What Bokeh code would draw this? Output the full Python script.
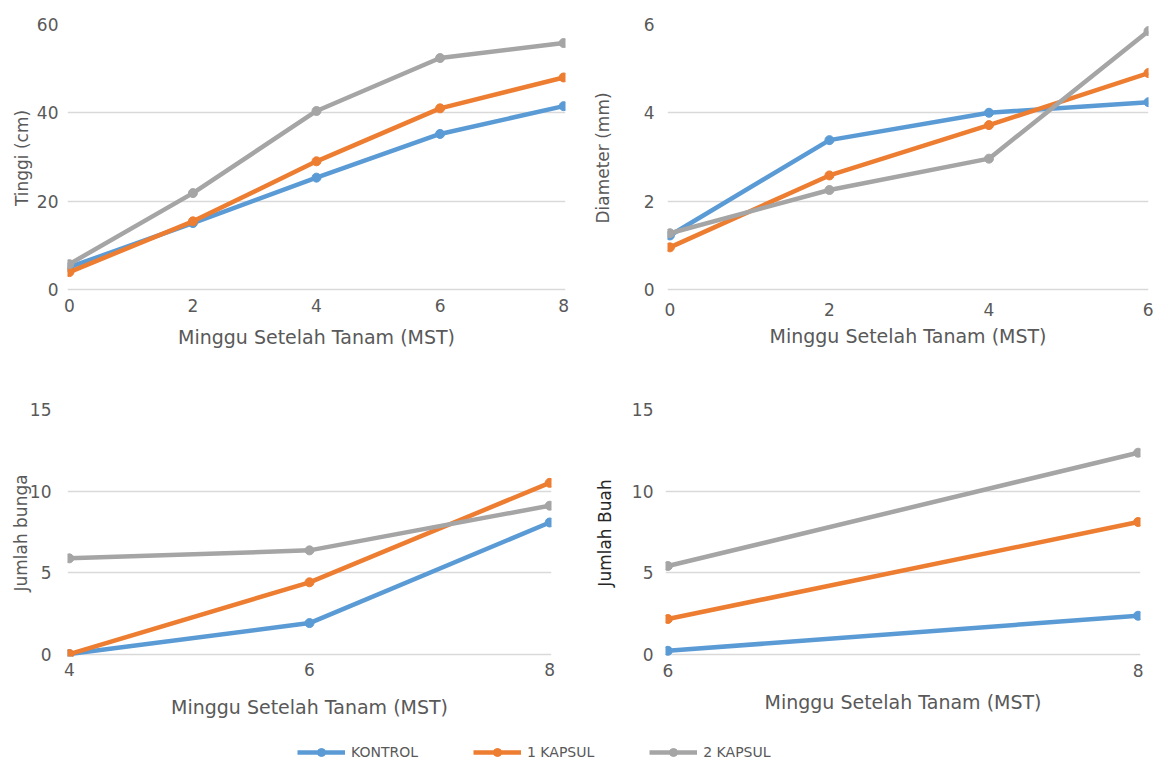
from bokeh.plotting import figure
from bokeh.layouts import column, row
from bokeh.models import Range1d, FixedTicker, Legend, LegendItem
from bokeh.embed import file_html
from bokeh.resources import INLINE

series = ["KONTROL", "1 KAPSUL", "2 KAPSUL"]
colors = ["#5B9BD5", "#ED7D31", "#A5A5A5"]

# Tinggi (cm)
mst_tinggi = [0, 2, 4, 6, 8]
tinggi_kontrol = [5.0, 15.0, 25.3, 35.2, 41.5]
tinggi_1kapsul = [3.9, 15.4, 29.0, 41.0, 48.0]
tinggi_2kapsul = [5.7, 21.8, 40.4, 52.4, 55.8]

# Diameter (mm)
mst_diameter = [0, 2, 4, 6]
diameter_kontrol = [1.22, 3.38, 4.0, 4.24]
diameter_1kapsul = [0.95, 2.58, 3.72, 4.9]
diameter_2kapsul = [1.27, 2.25, 2.96, 5.85]

# Jumlah bunga
mst_bunga = [4, 6, 8]
bunga_kontrol = [0.0, 1.9, 8.07]
bunga_1kapsul = [0.0, 4.4, 10.5]
bunga_2kapsul = [5.87, 6.36, 9.1]

# Jumlah Buah
mst_buah = [6, 8]
buah_kontrol = [0.2, 2.35]
buah_1kapsul = [2.15, 8.1]
buah_2kapsul = [5.4, 12.35]

FONT = "DejaVu Sans"
TXT = "#595959"


def make_panel(w, h, xr, yr, xticks, yticks, ylabel, borders, xs, ys_list,
               ylabel_color=TXT, ytick_so=8, ylab_so=0, xtick_so=5, xlab_so=10):
    p = figure(width=w, height=h, output_backend="svg", toolbar_location=None,
               x_range=Range1d(*xr), y_range=Range1d(*yr))
    p.min_border_left, p.min_border_right, p.min_border_top, p.min_border_bottom = borders
    p.outline_line_color = None
    p.xgrid.visible = False
    p.ygrid.grid_line_color = "#D9D9D9"
    p.ygrid.grid_line_width = 1.5
    for ax in (p.xaxis[0], p.yaxis[0]):
        ax.axis_line_color = None
        ax.major_tick_line_color = None
        ax.minor_tick_line_color = None
        ax.major_label_text_font = FONT
        ax.major_label_text_font_size = "17px"
        ax.major_label_text_color = TXT
        ax.axis_label_text_font = FONT
        ax.axis_label_text_font_style = "normal"
    p.xaxis[0].ticker = FixedTicker(ticks=xticks)
    p.yaxis[0].ticker = FixedTicker(ticks=yticks)
    p.xaxis[0].axis_label = "Minggu Setelah Tanam (MST)"
    p.xaxis[0].axis_label_text_color = TXT
    p.xaxis[0].axis_label_text_font_size = "19px"
    p.xaxis[0].major_label_standoff = xtick_so
    p.xaxis[0].axis_label_standoff = xlab_so
    p.yaxis[0].axis_label = ylabel
    p.yaxis[0].axis_label_text_color = ylabel_color
    p.yaxis[0].axis_label_text_font_size = "17px"
    p.yaxis[0].major_label_standoff = ytick_so
    p.yaxis[0].axis_label_standoff = ylab_so
    for ys, c in zip(ys_list, colors):
        p.line(xs, ys, line_color=c, line_width=4.5)
        p.scatter(xs, ys, size=9, fill_color=c, line_color=c)
    return p


# page origin is (0, 0): Bokeh's page template removes the body margin
p1 = make_panel(580, 378, (-0.03, 8.03), (-0.5, 60), [0, 2, 4, 6, 8], [0, 20, 40, 60],
                "Tinggi (cm)", (67, 15, 20, 87), mst_tinggi,
                [tinggi_kontrol, tinggi_1kapsul, tinggi_2kapsul],
                ytick_so=3, ylab_so=2, xtick_so=1, xlab_so=11)
p2 = make_panel(573, 378, (-0.03, 6.0), (-0.05, 6), [0, 2, 4, 6], [0, 2, 4, 6],
                "Diameter (mm)", (87, 5, 24, 80), mst_diameter,
                [diameter_kontrol, diameter_1kapsul, diameter_2kapsul],
                ytick_so=7, ylab_so=28, xtick_so=5, xlab_so=6)
p3 = make_panel(580, 352, (3.985, 8.015), (-0.15, 15), [4, 6, 8], [0, 5, 10, 15],
                "Jumlah bunga", (67, 29, 31, 74), mst_bunga,
                [bunga_kontrol, bunga_1kapsul, bunga_2kapsul],
                ytick_so=10, ylab_so=-4, xtick_so=0, xlab_so=17)
p4 = make_panel(573, 352, (5.99, 8.01), (-0.15, 15), [6, 8], [0, 5, 10, 15],
                "Jumlah Buah", (85, 13, 29, 71), mst_buah,
                [buah_kontrol, buah_1kapsul, buah_2kapsul], ylabel_color="#262626",
                ytick_so=6, ylab_so=14, xtick_so=1, xlab_so=11)

leg = figure(width=1153, height=33, output_backend="svg", toolbar_location=None,
             x_range=Range1d(0, 1), y_range=Range1d(0, 1))
leg.axis.visible = False
leg.grid.visible = False
leg.outline_line_color = None
leg.min_border = 0
nan = float("nan")
items = []
for name, c in zip(series, colors):
    lr = leg.line([nan], [nan], line_color=c, line_width=4.5)
    sr = leg.scatter([nan], [nan], size=9, fill_color=c, line_color=c)
    items.append(LegendItem(label=name, renderers=[lr, sr]))
legend = Legend(items=items, orientation="horizontal", location=(297, 1),
                border_line_alpha=0, background_fill_alpha=0,
                glyph_width=48, label_standoff=6, spacing=55, padding=0, margin=0,
                label_text_font=FONT, label_text_font_size="14px", label_text_color=TXT)
leg.add_layout(legend, "center")

layout = column(row(p1, p2), row(p3, p4), leg)
open("out.html", "w").write(file_html(layout, INLINE))
